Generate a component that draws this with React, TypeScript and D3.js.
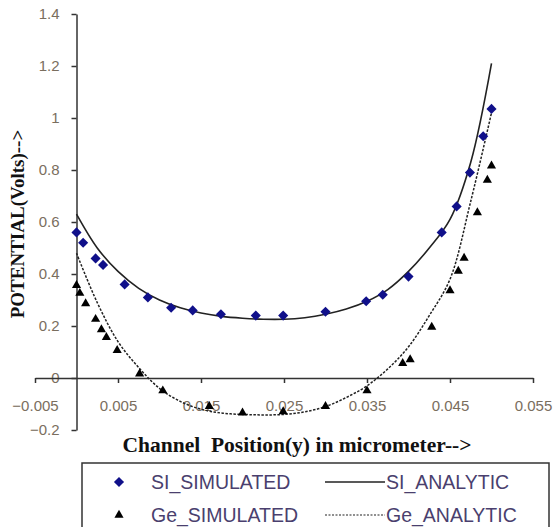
import React, { useEffect, useRef } from "react";
import * as d3 from "d3";

// simulated points, channel position (micrometer) vs potential (V)
const siSimX = [0, 0.0008, 0.0023, 0.0032, 0.0058, 0.0086, 0.0114, 0.014, 0.0174, 0.0216, 0.0249, 0.03, 0.0349, 0.0369, 0.04, 0.044, 0.0458, 0.0474, 0.049, 0.05];
const siSimY = [0.56, 0.52, 0.46, 0.435, 0.36, 0.31, 0.27, 0.26, 0.245, 0.24, 0.24, 0.255, 0.295, 0.32, 0.39, 0.56, 0.66, 0.79, 0.93, 1.035];

const geSimX = [0, 0.0004, 0.0011, 0.0023, 0.003, 0.0036, 0.0049, 0.0076, 0.0104, 0.016, 0.02, 0.0249, 0.03, 0.035, 0.0393, 0.0402, 0.0428, 0.045, 0.046, 0.0467, 0.0483, 0.0495, 0.05];
const geSimY = [0.36, 0.33, 0.29, 0.23, 0.19, 0.16, 0.11, 0.02, -0.045, -0.105, -0.13, -0.125, -0.105, -0.045, 0.06, 0.075, 0.2, 0.34, 0.415, 0.465, 0.64, 0.765, 0.82];

// analytic curves, sampled
const analyticX = [0, 0.0025, 0.005, 0.0075, 0.01, 0.0125, 0.015, 0.0175, 0.02, 0.0225, 0.025, 0.0275, 0.03, 0.0325, 0.035, 0.0375, 0.04, 0.0425, 0.045, 0.0475, 0.05];
const siAnalytic = [0.63, 0.5, 0.41, 0.345, 0.3, 0.27, 0.25, 0.237, 0.23, 0.226, 0.226, 0.232, 0.245, 0.265, 0.295, 0.34, 0.41, 0.5, 0.61, 0.83, 1.21];
const geAnalytic = [0.48, 0.29, 0.14, 0.04, -0.04, -0.09, -0.12, -0.135, -0.14, -0.142, -0.14, -0.13, -0.11, -0.075, -0.03, 0.035, 0.12, 0.24, 0.38, 0.68, 1.02];

const xTicks = [-0.005, 0.005, 0.015, 0.025, 0.035, 0.045, 0.055];
const yTicks = [-0.2, 0, 0.2, 0.4, 0.6, 0.8, 1, 1.2, 1.4];

const W = 553;
const H = 527;

const App = () => {
  const ref = useRef(null);

  useEffect(() => {
    const svg = d3.select(ref.current);
    svg.selectAll("*").remove();

    const x = d3.scaleLinear().domain([-0.005, 0.055]).range([35, 533]);
    const y = d3.scaleLinear().domain([-0.2, 1.4]).range([430, 14]);

    const serif = "'Liberation Serif', 'Times New Roman', serif";
    const sans = "'Liberation Sans', Arial, sans-serif";
    const tickColor = "#7a6e5e";

    // y axis at x = 0
    const yAxis = svg.append("g")
      .attr("transform", `translate(${x(0)},0)`)
      .call(d3.axisLeft(y).tickValues(yTicks).tickSize(5).tickSizeOuter(0).tickPadding(12)
        .tickFormat(d => d3.format("")(+d.toFixed(1))));
    yAxis.select(".domain").attr("stroke", "#333").attr("stroke-width", 1.5);
    yAxis.selectAll(".tick line").attr("stroke", "#333").attr("stroke-width", 1.5);
    yAxis.selectAll("text").attr("font-family", sans).attr("font-size", 15).attr("fill", tickColor);

    // x axis at y = 0
    const xAxis = svg.append("g")
      .attr("transform", `translate(0,${y(0)})`)
      .call(d3.axisBottom(x).tickValues(xTicks).tickSize(5).tickSizeOuter(0).tickPadding(17)
        .tickFormat(d => d3.format("")(+d.toFixed(3))));
    xAxis.select(".domain").attr("stroke", "#333").attr("stroke-width", 1.5);
    xAxis.selectAll(".tick line").attr("stroke", "#333").attr("stroke-width", 1.5);
    xAxis.selectAll("text").attr("font-family", sans).attr("font-size", 15).attr("fill", tickColor);

    const line = d3.line()
      .x(d => x(d[0]))
      .y(d => y(d[1]))
      .curve(d3.curveCatmullRom);

    svg.append("path")
      .attr("d", line(analyticX.map((v, i) => [v, siAnalytic[i]])))
      .attr("fill", "none")
      .attr("stroke", "#222")
      .attr("stroke-width", 1.6);

    svg.append("path")
      .attr("d", line(analyticX.map((v, i) => [v, geAnalytic[i]])))
      .attr("fill", "none")
      .attr("stroke", "#222")
      .attr("stroke-width", 1.5)
      .attr("stroke-dasharray", "2.5,1.5");

    const diamond = d3.symbol().type(d3.symbolDiamond2).size(65)();
    const triangle = d3.symbol().type(d3.symbolTriangle2).size(60)();

    svg.append("g").selectAll("path")
      .data(siSimX.map((v, i) => [v, siSimY[i]]))
      .enter()
      .append("path")
      .attr("d", diamond)
      .attr("transform", d => `translate(${x(d[0])},${y(d[1])})`)
      .attr("fill", "#10108a");

    svg.append("g").selectAll("path")
      .data(geSimX.map((v, i) => [v, geSimY[i]]))
      .enter()
      .append("path")
      .attr("d", triangle)
      .attr("transform", d => `translate(${x(d[0])},${y(d[1]) + 1})`)
      .attr("fill", "#000");

    // axis titles
    svg.append("text")
      .attr("transform", `translate(24,224) rotate(-90)`)
      .attr("text-anchor", "middle")
      .attr("font-family", serif)
      .attr("font-weight", "bold")
      .attr("font-size", 19)
      .attr("fill", "#111")
      .text("POTENTIAL(Volts)-->");

    svg.append("text")
      .attr("x", 297)
      .attr("y", 452)
      .attr("text-anchor", "middle")
      .attr("font-family", serif)
      .attr("font-weight", "bold")
      .attr("font-size", 21.5)
      .attr("fill", "#111")
      .text("Channel\u00A0 Position(y) in micrometer-->");

    // legend
    const lg = svg.append("g");
    lg.append("rect")
      .attr("x", 82).attr("y", 463).attr("width", 467).attr("height", 80)
      .attr("fill", "#fff").attr("stroke", "#333").attr("stroke-width", 1.5);

    const rows = [
      { sym: diamond, fill: "#10108a", label: "SI_SIMULATED", line: "SI_ANALYTIC", dash: null },
      { sym: triangle, fill: "#000", label: "Ge_SIMULATED", line: "Ge_ANALYTIC", dash: "2,1.5" },
    ];
    rows.forEach((r, i) => {
      const cy = 482 + i * 33;
      lg.append("path").attr("d", r.sym).attr("transform", `translate(119,${cy})`).attr("fill", r.fill);
      lg.append("text").attr("x", 151).attr("y", cy + 7)
        .attr("font-family", sans).attr("font-size", 19.5).attr("fill", "#4a3f6e").text(r.label);
      lg.append("line").attr("x1", 325).attr("x2", 385).attr("y1", cy).attr("y2", cy)
        .attr("stroke", "#222").attr("stroke-width", r.dash ? 1.2 : 1.5)
        .attr("stroke-dasharray", r.dash);
      lg.append("text").attr("x", 386).attr("y", cy + 7)
        .attr("font-family", sans).attr("font-size", 19.5).attr("fill", "#4a3f6e").text(r.line);
    });
  }, []);

  return (
    <svg ref={ref} width={W} height={H} style={{ position: "absolute", left: 0, top: 0, background: "#fff" }}></svg>
  );
};

export default App;
